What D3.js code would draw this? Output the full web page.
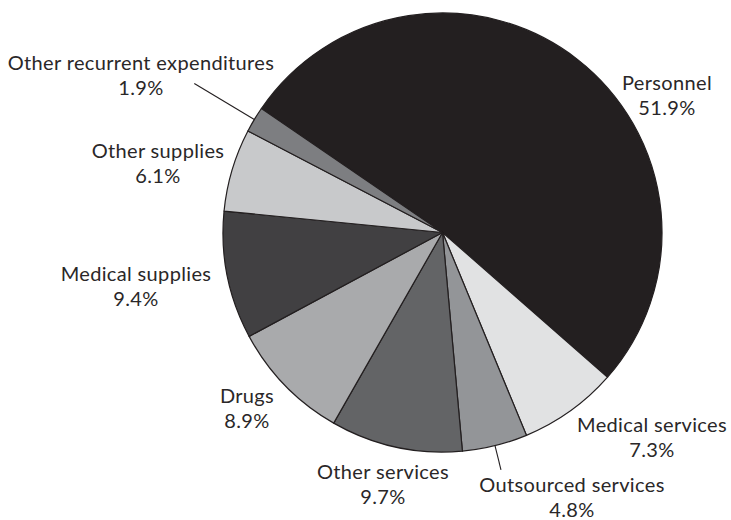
<!DOCTYPE html>
<html>
<head>
<meta charset="utf-8">
<script src="https://cdn.jsdelivr.net/npm/d3@7"></script>
<style>
  body { margin: 0; background: #fff; }
  svg text { font-family: Lato, "Open Sans", sans-serif; fill: #2a2728; }
</style>
</head>
<body>
<div id="chart"></div>
<script>
const categories = [
  "Personnel",
  "Medical services",
  "Outsourced services",
  "Other services",
  "Drugs",
  "Medical supplies",
  "Other supplies",
  "Other recurrent expenditures"
];
const shares = [51.9, 7.3, 4.8, 9.7, 8.9, 9.4, 6.1, 1.9];
const pct_labels = ["51.9%", "7.3%", "4.8%", "9.7%", "8.9%", "9.4%", "6.1%", "1.9%"];

const fills = ["#231f20", "#e1e2e3", "#939598", "#636466", "#a9aaac", "#414042", "#c8c9cb", "#7d7e81"];

// label anchor (centre x, baseline of first line), picked by hand from the layout
const label_at = [
  [667, 90], [652, 432], [572, 492], [383, 479],
  [247, 403], [136, 281], [158, 158], [141, 70]
];
// leader lines: [inner radius offset, outer radius offset], null = none
const leaders = [null, null, [0, 25], null, null, null, null, [0, 70]];

const width = 731, height = 520;
const cx = 442.5, cy = 232.5, radius = 219.5;
const start = -55.6 * Math.PI / 180;

const svg = d3.select("#chart").append("svg")
  .attr("width", width)
  .attr("height", height);

const g = svg.append("g")
  .attr("transform", "translate(" + cx + "," + cy + ")");

const pie = d3.pie()
  .sort(null)
  .value(d => d)
  .startAngle(start)
  .endAngle(start + 2 * Math.PI);

const arc = d3.arc().innerRadius(0).outerRadius(radius);
const arcs = pie(shares);

g.selectAll(".slice")
  .data(arcs)
  .enter().append("path")
  .attr("class", "slice")
  .attr("d", arc)
  .attr("fill", (d, i) => fills[i])
  .attr("stroke", "#231f20")
  .attr("stroke-width", 1.2)
  .attr("stroke-linejoin", "round");

// leader lines
arcs.forEach(function(d, i) {
  if (!leaders[i]) return;
  let a = (d.startAngle + d.endAngle) / 2;
  let r0 = radius + leaders[i][0], r1 = radius + leaders[i][1];
  g.append("line")
    .attr("x1", r0 * Math.sin(a)).attr("y1", -r0 * Math.cos(a))
    .attr("x2", r1 * Math.sin(a)).attr("y2", -r1 * Math.cos(a))
    .attr("stroke", "#231f20")
    .attr("stroke-width", 1.1);
});

const labels = svg.selectAll(".lbl")
  .data(categories)
  .enter().append("text")
  .attr("class", "lbl")
  .attr("text-anchor", "middle")
  .attr("font-size", 20)
  .attr("letter-spacing", 0.35)
  .attr("x", (d, i) => label_at[i][0])
  .attr("y", (d, i) => label_at[i][1]);

labels.append("tspan").text(d => d);
labels.append("tspan")
  .attr("x", (d, i) => label_at[i][0])
  .attr("dy", 25)
  .text((d, i) => pct_labels[i]);
</script>
</body>
</html>
